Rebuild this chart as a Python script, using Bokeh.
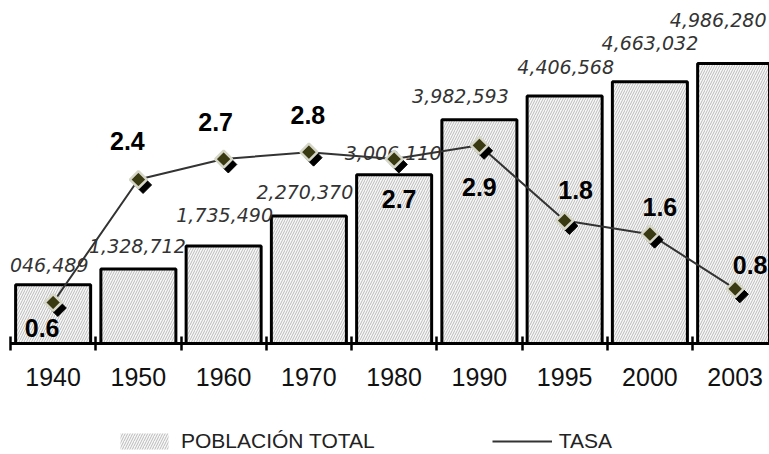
import numpy as np
from bokeh.plotting import figure
from bokeh.layouts import column
from bokeh.models import (Range1d, LinearAxis, FixedTicker, ColumnDataSource,
                          Legend, LegendItem)
from bokeh.transform import dodge
from bokeh.core.properties import value
from bokeh.embed import file_html
from bokeh.resources import INLINE

# ---- data ----
years = ["1940", "1950", "1960", "1970", "1980", "1990", "1995", "2000", "2003"]
poblacion = [1046489, 1328712, 1735490, 2270370, 3006110, 3982593, 4406568, 4663032, 4986280]
tasa = [0.6, 2.4, 2.7, 2.8, 2.7, 2.9, 1.8, 1.6, 0.8]

pob_labels = [f"{v:,}" for v in poblacion]
tasa_labels = [f"{v:.1f}" for v in tasa]

# ---- label nudges in screen pixels (layout only) ----
pob_dx = [-13, -1, 1, -4, -1, -19, 1, 0, -17]
pob_dy = [-20, -23, -31, -24, -22, -24, -29, -39, -43]
tasa_dx = [-11, -11, -8, -1, 5, 0, 11, 10, 15]
tasa_dy = [25, -39, -37, -37, 40, 42, -31, -27, -24]

xs = list(range(len(years)))

src = ColumnDataSource(dict(
    x=xs, pob=poblacion, tasa=tasa,
    pob_label=pob_labels, tasa_label=tasa_labels,
    pdx=pob_dx, pdy=pob_dy, tdx=tasa_dx, tdy=tasa_dy,
))

BAR_STYLE = dict(fill_color="#f8f8f8", line_color=None, hatch_pattern="/",
                 hatch_color="#bababa", hatch_scale=5, hatch_weight=1)
LINE_STYLE = dict(line_color="#333333", line_width=2)

p = figure(width=769, height=395,
           x_range=Range1d(-0.5, 8.403), y_range=Range1d(0, 6108000),
           x_axis_location=None, y_axis_location=None,
           output_backend="svg", toolbar_location=None,
           min_border_left=10, min_border_right=0, min_border_top=0,
           min_border_bottom=52)
p.extra_y_ranges = {"tasa": Range1d(0, 5.02)}
p.grid.visible = False
p.outline_line_color = None
p.background_fill_color = "white"

# bars: hatched fill + black outline
p.vbar(x="x", top="pob", width=0.88, source=src, **BAR_STYLE)
p.vbar(x="x", top="pob", width=0.88, source=src,
       fill_color=None, line_color="black", line_width=3)

# population labels
p.text(x="x", y="pob", text="pob_label", x_offset="pdx", y_offset="pdy",
       source=src, text_font=value("DejaVu Sans"), text_font_style="italic",
       text_font_size="19px", text_color="#333333",
       text_align="center", text_baseline="middle")

# growth rate line
p.line(x="x", y="tasa", source=src, y_range_name="tasa", **LINE_STYLE)
p.scatter(x=dodge("x", 0.055), y=dodge("tasa", -0.08), source=src,
          y_range_name="tasa", marker="square", angle=np.pi / 4, size=12,
          fill_color="black", line_color="black", line_width=1)
p.scatter(x="x", y="tasa", source=src, y_range_name="tasa",
          marker="square", angle=np.pi / 4, size=12, fill_color="#3a3a12",
          line_color="#d6d6c8", line_width=2.5)

p.text(x="x", y="tasa", text="tasa_label", x_offset="tdx", y_offset="tdy",
       source=src, y_range_name="tasa",
       text_font=value("Liberation Sans"), text_font_style="bold",
       text_font_size="25px", text_color="black",
       text_align="center", text_baseline="middle")

# x axis
xaxis = LinearAxis(
    ticker=FixedTicker(ticks=xs, minor_ticks=[i - 0.5 for i in range(len(years) + 1)]),
    major_label_overrides={i: y for i, y in zip(xs, years)},
)
xaxis.axis_line_width = 3
xaxis.axis_line_color = "black"
xaxis.major_tick_in = 0
xaxis.major_tick_out = 0
xaxis.major_tick_line_color = None
xaxis.minor_tick_in = 7
xaxis.minor_tick_out = 7
xaxis.minor_tick_line_width = 2.5
xaxis.minor_tick_line_color = "black"
xaxis.major_label_text_font = "Liberation Sans"
xaxis.major_label_text_font_size = "25px"
xaxis.major_label_text_color = "#111111"
xaxis.major_label_standoff = 17
p.add_layout(xaxis, "below")

# ---- legend strip: same series, view window kept off the data ----
lf = figure(width=769, height=59,
            x_range=Range1d(1000, 1001), y_range=Range1d(1e9, 1e9 + 1),
            x_axis_location=None, y_axis_location=None,
            output_backend="svg", toolbar_location=None,
            min_border_left=0, min_border_right=0, min_border_top=0,
            min_border_bottom=0)
lf.grid.visible = False
lf.outline_line_color = None
lf_bar = lf.vbar(x="x", top="pob", width=0.88, source=src, **BAR_STYLE)
lf_line = lf.line(x="x", y="tasa", source=src, **LINE_STYLE)

legend = Legend(items=[
    LegendItem(label="POBLACIÓN TOTAL", renderers=[lf_bar]),
    LegendItem(label="TASA", renderers=[lf_line]),
], orientation="horizontal", location=(104, 1))
legend.border_line_color = None
legend.background_fill_alpha = 0
legend.glyph_width = 60
legend.glyph_height = 20
legend.label_text_font = "Liberation Sans"
legend.label_text_font_size = "21px"
legend.label_text_color = "#222222"
legend.label_standoff = 7
legend.spacing = 117
legend.padding = 0
legend.margin = 0
lf.add_layout(legend, "center")

layout = column(p, lf, spacing=0)
open("out.html", "w").write(file_html(layout, INLINE))
